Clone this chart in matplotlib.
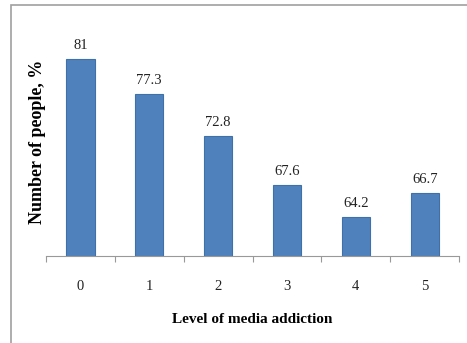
import matplotlib.pyplot as plt
from matplotlib.patches import Rectangle

levels = ["0", "1", "2", "3", "4", "5"]
people_pct = [81, 77.3, 72.8, 67.6, 64.2, 66.7]

plt.rcParams['font.family'] = ['Liberation Serif', 'DejaVu Serif']

fig = plt.figure(figsize=(4.67, 3.43), dpi=100)
ax = fig.add_axes([0.0985, 0.2536, 0.8845, 0.6824])

x = list(range(len(levels)))
bars = ax.bar(x, people_pct, width=0.41, color='#4F81BD', edgecolor='#3F70AA', linewidth=0.8)
for b, v in zip(bars, people_pct):
    ax.annotate(f"{v:g}", (b.get_x() + b.get_width() / 2, v), xytext=(0, 5),
                textcoords='offset points', ha='center', va='bottom',
                fontsize=10.5, color='#222222')

ax.set_xlim(-0.5, len(levels) - 0.5)
ax.set_ylim(60, 85)
ax.set_yticks([])
ax.set_xticks(x)
ax.set_xticklabels(levels, fontsize=10.5, color='#222222')
ax.set_xticks([i - 0.5 for i in range(len(levels) + 1)], minor=True)
ax.tick_params(axis='x', which='major', length=0, pad=17)
ax.tick_params(axis='x', which='minor', length=4, color='#999999', width=0.8)
for s in ['top', 'right', 'left']:
    ax.spines[s].set_visible(False)
ax.spines['bottom'].set_color('#999999')
ax.spines['bottom'].set_linewidth(0.8)

ax.set_xlabel("Level of media addiction", fontsize=11, fontweight='bold', labelpad=15)
ax.set_ylabel("Number of people, %", fontsize=13, fontweight='bold')
ax.yaxis.set_label_coords(0.0, 0.49)

# outer frame around the figure
fig.patches.append(Rectangle((11 / 467, -0.05), 1.1, 1.05 - 5 / 343, transform=fig.transFigure,
                             fill=False, edgecolor='#A0A0A0', linewidth=1.2))

fig.savefig("out.png", dpi=100)
